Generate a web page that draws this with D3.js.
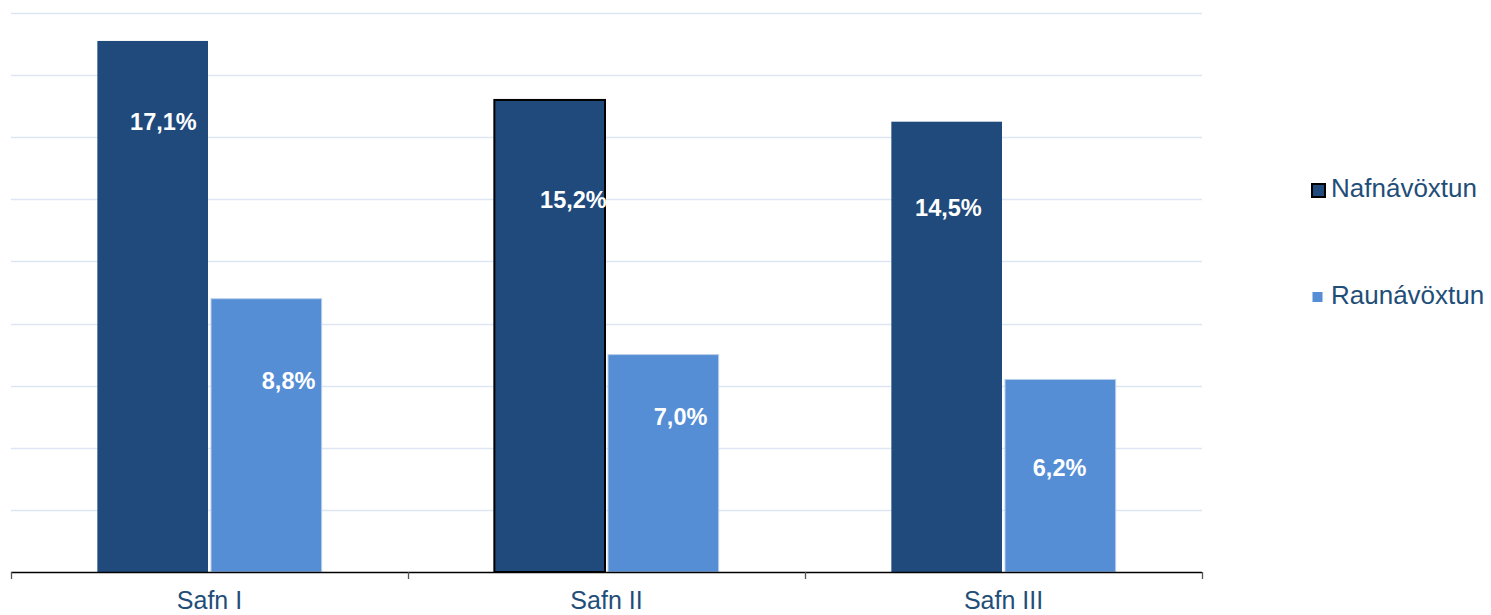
<!DOCTYPE html>
<html>
<head>
<meta charset="utf-8">
<script src="https://cdn.jsdelivr.net/npm/d3@7"></script>
<style>
  body { margin: 0; background: #fff; }
  svg text { font-family: "Liberation Sans", Arial, sans-serif; }
</style>
</head>
<body>
<div id="container"></div>
<script>
// Nafnávöxtun vs raunávöxtun per safn

const categories = ["Safn I", "Safn II", "Safn III"]
const seriesNames = ["Nafnávöxtun", "Raunávöxtun"]
const nafn = [17.1, 15.2, 14.5]
const raun = [8.8, 7.0, 6.2]
const yTicks = [0, 2, 4, 6, 8, 10, 12, 14, 16, 18]

// label nudges (px) to mimic where the labels sit in the original
const labelNudge = [
    [[10, 83], [23, 84]],
    [[23, 102], [18, 64]],
    [[1, 88], [0, 90]],
]

const width = 1491,
    height = 615
const margin = { top: 13, left: 11, right: 289, bottom: 43 }
const colors = ["#204a7c", "#558ed5"]
const textColor = "#1f4e79"

const svg = d3.select("#container")
    .append("svg")
    .attr("width", width)
    .attr("height", height)

const x0 = d3.scaleBand()
    .domain(categories)
    .range([margin.left, width - margin.right])

const x1 = d3.scaleBand()
    .domain(seriesNames)
    .range([0, x0.bandwidth()])
    .paddingOuter(0.77)

const y = d3.scaleLinear()
    .domain([0, 18])
    .range([height - margin.bottom, margin.top])

// gridlines
svg.append("g").attr("class", "grid")
    .selectAll("line")
    .data(yTicks.slice(1))
    .enter()
    .append("line")
    .attr("x1", margin.left)
    .attr("x2", width - margin.right)
    .attr("y1", d => Math.round(y(d)) + 0.5)
    .attr("y2", d => Math.round(y(d)) + 0.5)
    .style("stroke", "#dde7f3")
    .style("stroke-width", 1.3)

const rows = categories.map((c, i) => ({ cat: c, i: i, values: [nafn[i], raun[i]] }))

const groups = svg.append("g")
    .selectAll("g")
    .data(rows)
    .enter()
    .append("g")
    .attr("transform", d => `translate(${x0(d.cat)},0)`)

groups.selectAll("rect")
    .data(d => d.values.map((v, j) => ({ v: v, j: j, i: d.i })))
    .enter()
    .append("rect")
    .attr("x", d => x1(seriesNames[d.j]) + (d.j === 1 ? 1.5 : 0))
    .attr("y", d => y(d.v))
    .attr("width", x1.bandwidth() - 1.5)
    .attr("height", d => y(0) - y(d.v))
    .style("fill", d => colors[d.j])
    .style("stroke", d => d.i === 1 && d.j === 0 ? "#000" : (d.j === 1 ? "#b9cdea" : "none"))
    .style("stroke-width", d => d.i === 1 && d.j === 0 ? 2 : 1)

groups.selectAll("text")
    .data(d => d.values.map((v, j) => ({ v: v, j: j, i: d.i })))
    .enter()
    .append("text")
    .attr("x", d => x1(seriesNames[d.j]) + x1.bandwidth() / 2 + labelNudge[d.i][d.j][0])
    .attr("y", d => y(d.v) + labelNudge[d.i][d.j][1])
    .attr("text-anchor", "middle")
    .attr("dominant-baseline", "middle")
    .style("fill", "#fff")
    .style("font-weight", "bold")
    .style("font-size", "23.5px")
    .text(d => d3.format(".1f")(d.v).replace(".", ",") + "%")

// x axis
const xAxis = svg.append("g").attr("id", "x-axis")
    .attr("transform", `translate(0,${y(0)})`)
xAxis.append("line")
    .attr("x1", margin.left)
    .attr("x2", width - margin.right)
    .attr("y1", 0.5).attr("y2", 0.5)
    .style("stroke", "#000")
    .style("stroke-width", 1.3)
xAxis.selectAll(".tick")
    .data(categories.map(c => x0(c)).concat([width - margin.right]))
    .enter()
    .append("line")
    .attr("class", "tick")
    .attr("x1", d => d + 0.5).attr("x2", d => d + 0.5)
    .attr("y1", 0).attr("y2", 7)
    .style("stroke", "#555")
    .style("stroke-width", 1.3)
xAxis.selectAll(".cat")
    .data(categories)
    .enter()
    .append("text")
    .attr("class", "cat")
    .attr("x", d => x0(d) + x0.bandwidth() / 2)
    .attr("y", 37)
    .attr("text-anchor", "middle")
    .style("fill", textColor)
    .style("font-size", "25px")
    .text(d => d)

// legend
const legend = svg.append("g").attr("id", "legend")
    .attr("transform", "translate(1311,190)")
const legendItems = legend.selectAll("g")
    .data(seriesNames)
    .enter()
    .append("g")
    .attr("transform", (d, i) => `translate(0,${i * 107})`)
legendItems.append("rect")
    .attr("x", (d, i) => i === 0 ? 1 : 1.5)
    .attr("y", (d, i) => i === 0 ? -6 : -5)
    .attr("width", (d, i) => i === 0 ? 13 : 10)
    .attr("height", (d, i) => i === 0 ? 13 : 10)
    .style("fill", (d, i) => colors[i])
    .style("stroke", (d, i) => i === 0 ? "#000" : "none")
    .style("stroke-width", 2)
legendItems.append("text")
    .attr("x", 20)
    .attr("y", 0)
    .attr("dominant-baseline", "middle")
    .style("fill", textColor)
    .style("font-size", "26px")
    .text(d => d)
</script>
</body>
</html>
